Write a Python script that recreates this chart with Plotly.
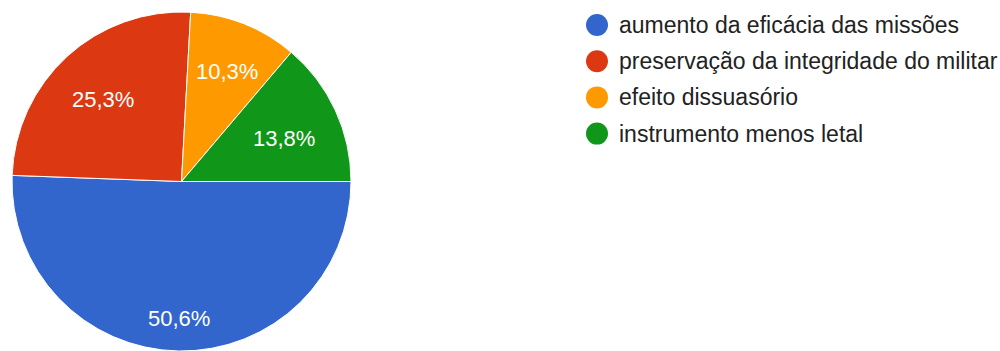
import math
import plotly.graph_objects as go

# Survey answers (respondent counts per option)
categories = [
    "aumento da eficácia das missões",
    "preservação da integridade do militar",
    "efeito dissuasório",
    "instrumento menos letal",
]
counts = [44, 22, 9, 12]
colors = ["#3366CC", "#DC3912", "#FF9900", "#109618"]

W, H = 1000, 351
FONT = "Arial, 'Liberation Sans', sans-serif"

# Pie placement in pixels (domain drives the radius)
pie_left, pie_right = 12.0, 351.0
pie_top, pie_bottom = 12.0, 351.0
cx = (pie_left + pie_right) / 2
cy = (pie_top + pie_bottom) / 2
radius = min(pie_right - pie_left, pie_bottom - pie_top) / 2

fig = go.Figure()
fig.add_trace(go.Pie(
    labels=categories,
    values=counts,
    sort=False,
    direction="clockwise",
    rotation=90,
    textinfo="none",
    hovertemplate="%{label}<br>%{value} (%{percent})<extra></extra>",
    marker=dict(colors=colors, line=dict(color="white", width=1)),
    showlegend=False,
    domain=dict(x=[pie_left / W, pie_right / W],
                y=[1 - pie_bottom / H, 1 - pie_top / H]),
))

# Percentage labels: placed along each slice's mid-angle so the
# outer corner of the text box sits at a fixed fraction of the radius
total = sum(counts)
annotations = []
shapes = []
start = 0.0
half_w, half_h = 32.0, 8.0
outer = 0.855 * radius
for v in counts:
    span = 360.0 * v / total
    mid = math.radians(start + span / 2)
    start += span
    c, s = math.cos(mid), math.sin(mid)
    b = abs(c) * half_w + abs(s) * half_h
    d = -b + math.sqrt(b * b - (half_w ** 2 + half_h ** 2 - outer ** 2))
    px, py = cx + d * c, cy + d * s
    label = f"{v / total * 100:.1f}%".replace(".", ",")
    annotations.append(dict(
        x=px / W, y=1 - py / H, xref="paper", yref="paper",
        text=label, showarrow=False, xanchor="center", yanchor="middle",
        yshift=-4,
        font=dict(family=FONT, size=22, color="white"),
    ))

# Legend: circle swatches with labels
leg_x, leg_y0, leg_step, dot = 597, 25, 36.2, 22
for i, (name, col) in enumerate(zip(categories, colors)):
    yc = leg_y0 + i * leg_step
    shapes.append(dict(
        type="circle", xref="paper", yref="paper",
        xsizemode="pixel", ysizemode="pixel",
        xanchor=leg_x / W, yanchor=1 - yc / H,
        x0=-dot / 2, x1=dot / 2, y0=-dot / 2, y1=dot / 2,
        fillcolor=col, line=dict(width=0),
    ))
    annotations.append(dict(
        x=617 / W, y=1 - yc / H, xref="paper", yref="paper",
        text=name, showarrow=False, xanchor="left", yanchor="middle",
        font=dict(family=FONT, size=23, color="#222222"),
    ))

fig.update_layout(
    width=W, height=H,
    margin=dict(l=0, r=0, t=0, b=0),
    paper_bgcolor="white",
    plot_bgcolor="white",
    annotations=annotations,
    shapes=shapes,
)

fig.write_html("out.html")
